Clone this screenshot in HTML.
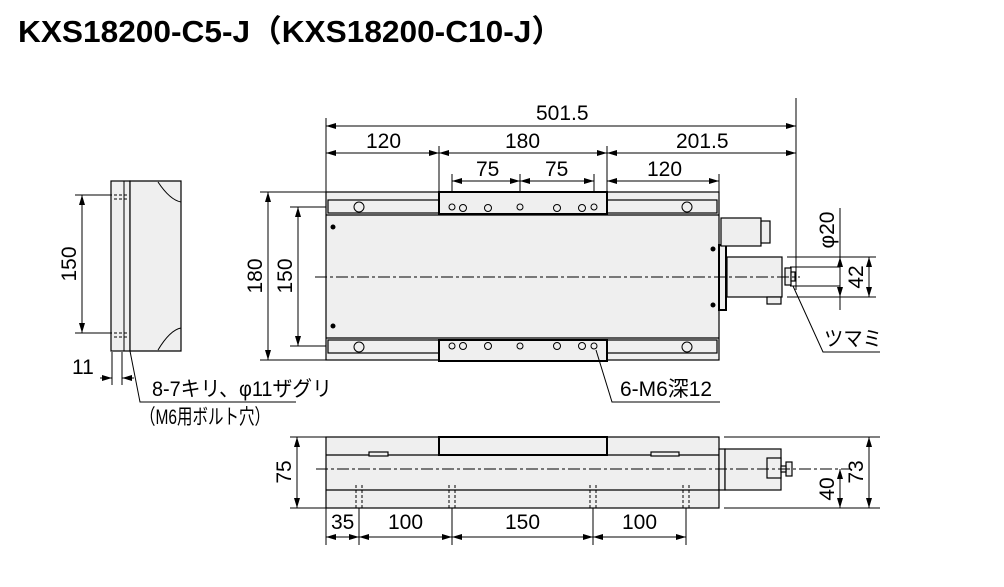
<!DOCTYPE html>
<html><head><meta charset="utf-8"><style>
html,body{margin:0;padding:0;background:#fff}
svg{display:block}
text{font-family:"Liberation Sans","Noto Sans CJK JP",sans-serif;fill:#000}
</style></head><body>
<svg width="1004" height="587" viewBox="0 0 1004 587" xmlns="http://www.w3.org/2000/svg">
<defs>
<marker id="a" viewBox="0 0 10 6" refX="10" refY="3" markerWidth="10" markerHeight="6" markerUnits="userSpaceOnUse" orient="auto-start-reverse"><path d="M0,0L10,3L0,6Z" fill="#000"/></marker>
</defs>
<text x="18" y="42" font-size="31" font-weight="bold" textLength="545" lengthAdjust="spacingAndGlyphs">KXS18200-C5-J（KXS18200-C10-J）</text>

<g stroke="#000" stroke-width="1" fill="none">
<!-- top dims -->
<line x1="326" y1="118" x2="326" y2="192"/><line x1="796" y1="98" x2="796" y2="290"/>
<line x1="326" y1="126" x2="796" y2="126" marker-start="url(#a)" marker-end="url(#a)"/>
<line x1="326" y1="153" x2="439" y2="153" marker-start="url(#a)" marker-end="url(#a)"/>
<line x1="439" y1="153" x2="607" y2="153" marker-start="url(#a)" marker-end="url(#a)"/>
<line x1="607" y1="153" x2="796" y2="153" marker-start="url(#a)" marker-end="url(#a)"/>
<line x1="439" y1="146" x2="439" y2="192"/><line x1="607" y1="146" x2="607" y2="192"/>
<line x1="452" y1="174" x2="452" y2="210"/><line x1="520" y1="174" x2="520" y2="210"/><line x1="594" y1="174" x2="594" y2="210"/><line x1="719" y1="174" x2="719" y2="192"/>
<line x1="452" y1="181" x2="520" y2="181" marker-start="url(#a)" marker-end="url(#a)"/>
<line x1="520" y1="181" x2="594" y2="181" marker-start="url(#a)" marker-end="url(#a)"/>
<line x1="607" y1="181" x2="719" y2="181" marker-start="url(#a)" marker-end="url(#a)"/>
<!-- left dims top view -->
<line x1="260" y1="192" x2="326" y2="192"/><line x1="260" y1="360" x2="326" y2="360"/>
<line x1="268" y1="192" x2="268" y2="360" marker-start="url(#a)" marker-end="url(#a)"/>
<line x1="290" y1="207" x2="340" y2="207"/><line x1="290" y1="346" x2="340" y2="346"/>
<line x1="298" y1="207" x2="298" y2="346" marker-start="url(#a)" marker-end="url(#a)"/>
</g>

<!-- top view body -->
<g stroke="#000" stroke-width="1.2" fill="#efefef">
<rect x="326" y="192" width="393" height="168"/>
<line x1="326" y1="215" x2="719" y2="215"/><line x1="326" y1="338" x2="719" y2="338"/>
<rect x="328" y="200" width="111" height="13" fill="none"/><rect x="607" y="200" width="110" height="13" fill="none"/>
<rect x="328" y="340" width="111" height="13" fill="none"/><rect x="607" y="340" width="110" height="13" fill="none"/>
<rect x="439" y="192" width="168" height="22" stroke-width="2"/>
<rect x="439" y="340" width="168" height="21" stroke-width="2"/>
<rect x="719" y="245" width="7" height="65" stroke-width="2"/>
<rect x="721" y="218" width="40" height="28"/><rect x="761" y="221" width="9" height="22"/>
<rect x="727" y="257" width="55" height="40"/><rect x="767" y="297" width="14" height="7"/>
<rect x="785" y="268" width="6" height="17"/><rect x="791" y="272" width="4" height="9"/>
</g>
<g stroke="#000" stroke-width="1" fill="none">
<circle cx="359" cy="207" r="5"/><circle cx="687" cy="207" r="5"/><circle cx="359" cy="347" r="5"/><circle cx="687" cy="347" r="5"/>
<circle cx="452" cy="207" r="3"/><circle cx="520" cy="207" r="3"/><circle cx="594" cy="207" r="3"/>
<circle cx="452" cy="346" r="3"/><circle cx="520" cy="346" r="3"/><circle cx="594" cy="346" r="3"/>
<circle cx="463" cy="208" r="3.5"/><circle cx="488" cy="208" r="3.5"/><circle cx="557" cy="208" r="3.5"/><circle cx="582" cy="208" r="3.5"/>
<circle cx="463" cy="346" r="3.5"/><circle cx="488" cy="346" r="3.5"/><circle cx="557" cy="346" r="3.5"/><circle cx="582" cy="346" r="3.5"/>
<line x1="315" y1="277" x2="800" y2="277" stroke-dasharray="12,3,3,3"/>
</g>
<g fill="#000"><circle cx="333" cy="227" r="2.5"/><circle cx="333" cy="326" r="2.5"/><circle cx="713" cy="249" r="2.5"/><circle cx="713" cy="305" r="2.5"/></g>

<!-- right dims -->
<g stroke="#000" stroke-width="1" fill="none">
<line x1="787" y1="257" x2="876" y2="257"/><line x1="787" y1="297" x2="876" y2="297"/>
<line x1="840" y1="208" x2="840" y2="310"/>
<line x1="840" y1="268" x2="840" y2="257" marker-end="url(#a)"/><line x1="840" y1="286" x2="840" y2="297" marker-end="url(#a)"/>
<line x1="790" y1="267" x2="840" y2="267"/><line x1="790" y1="286" x2="840" y2="286"/>
<line x1="869" y1="257" x2="869" y2="297" marker-start="url(#a)" marker-end="url(#a)"/>
<polyline points="793,286 823,352 880,352"/>
</g>

<!-- left side view -->
<g stroke="#000" stroke-width="1.2" fill="#efefef">
<rect x="111" y="181" width="19" height="170"/>
<path d="M130,181 L181,181 L181,351 L130,351Z"/>
</g>
<g stroke="#000" stroke-width="1" fill="none">
<line x1="124" y1="181" x2="124" y2="351"/>
<line x1="114" y1="195" x2="128" y2="195" stroke-dasharray="3,2"/><line x1="114" y1="199" x2="128" y2="199" stroke-dasharray="3,2"/>
<line x1="114" y1="333" x2="128" y2="333" stroke-dasharray="3,2"/><line x1="114" y1="337" x2="128" y2="337" stroke-dasharray="3,2"/>
<path d="M158,182 Q170,200 181,202"/><path d="M158,350 Q170,330 181,328"/>
<line x1="75" y1="195" x2="112" y2="195"/><line x1="75" y1="333" x2="112" y2="333"/>
<line x1="82" y1="195" x2="82" y2="333" marker-start="url(#a)" marker-end="url(#a)"/>
<line x1="112" y1="352" x2="112" y2="385"/><line x1="122" y1="352" x2="122" y2="385"/>
<line x1="100" y1="378" x2="112" y2="378" marker-end="url(#a)"/><line x1="134" y1="378" x2="122" y2="378" marker-end="url(#a)"/>
<polyline points="130,351 140,402 296,402"/>
<polyline points="596,350 612,402 720,402"/>
</g>

<!-- bottom view -->
<g stroke="#000" stroke-width="1.2" fill="#efefef">
<rect x="326" y="437" width="393" height="71"/>
<line x1="326" y1="455" x2="719" y2="455"/><line x1="326" y1="490" x2="719" y2="490"/>
<rect x="439" y="437" width="168" height="18" stroke-width="2"/>
<rect x="369" y="452" width="19" height="4"/><rect x="651" y="452" width="28" height="4"/>
<rect x="719" y="449" width="6" height="41"/>
<rect x="725" y="449" width="56" height="41"/><rect x="767" y="458" width="14" height="20"/>
<rect x="786" y="462" width="6" height="14"/><rect x="781" y="466" width="5" height="6"/>
</g>
<g stroke="#000" stroke-width="1" fill="none">
<line x1="316" y1="469" x2="850" y2="469" stroke-dasharray="12,3,3,3"/>
<g stroke-dasharray="3,2"><line x1="356" y1="485" x2="356" y2="508"/><line x1="362" y1="485" x2="362" y2="508"/>
<line x1="449" y1="485" x2="449" y2="508"/><line x1="455" y1="485" x2="455" y2="508"/>
<line x1="590" y1="485" x2="590" y2="508"/><line x1="596" y1="485" x2="596" y2="508"/>
<line x1="683" y1="485" x2="683" y2="508"/><line x1="689" y1="485" x2="689" y2="508"/></g>
<line x1="290" y1="437" x2="326" y2="437"/><line x1="290" y1="508" x2="326" y2="508"/>
<line x1="297" y1="437" x2="297" y2="508" marker-start="url(#a)" marker-end="url(#a)"/>
<line x1="724" y1="437" x2="880" y2="437"/><line x1="724" y1="508" x2="880" y2="508"/>
<line x1="869" y1="437" x2="869" y2="508" marker-start="url(#a)" marker-end="url(#a)"/>
<line x1="840" y1="469" x2="840" y2="508" marker-start="url(#a)" marker-end="url(#a)"/>
<line x1="326" y1="508" x2="326" y2="545"/><line x1="359" y1="508" x2="359" y2="545"/><line x1="452" y1="508" x2="452" y2="545"/><line x1="593" y1="508" x2="593" y2="545"/><line x1="686" y1="508" x2="686" y2="545"/>
<line x1="326" y1="537" x2="359" y2="537" marker-start="url(#a)" marker-end="url(#a)"/>
<line x1="359" y1="537" x2="452" y2="537" marker-start="url(#a)" marker-end="url(#a)"/>
<line x1="452" y1="537" x2="593" y2="537" marker-start="url(#a)" marker-end="url(#a)"/>
<line x1="593" y1="537" x2="686" y2="537" marker-start="url(#a)" marker-end="url(#a)"/>
</g>

<!-- labels -->
<g font-size="21">
<text x="536" y="120">501.5</text>
<text x="366" y="148">120</text><text x="505" y="148">180</text><text x="676" y="148">201.5</text>
<text x="476" y="176">75</text><text x="545" y="176">75</text><text x="647" y="176">120</text>
<text transform="translate(262,276) rotate(-90)" text-anchor="middle">180</text>
<text transform="translate(292,276) rotate(-90)" text-anchor="middle">150</text>
<text transform="translate(76,264) rotate(-90)" text-anchor="middle">150</text>
<text x="72" y="374">11</text>
<text transform="translate(834,230) rotate(-90)" text-anchor="middle">φ20</text>
<text transform="translate(863,277) rotate(-90)" text-anchor="middle">42</text>
<text transform="translate(834,489) rotate(-90)" text-anchor="middle">40</text>
<text transform="translate(863,472) rotate(-90)" text-anchor="middle">73</text>
<text transform="translate(291,472) rotate(-90)" text-anchor="middle">75</text>
<text x="331" y="529">35</text><text x="388" y="529">100</text><text x="505" y="529">150</text><text x="622" y="529">100</text>
<text x="152" y="396" textLength="180" lengthAdjust="spacingAndGlyphs">8-7キリ、φ11ザグリ</text>
<text x="140" y="424" textLength="130" lengthAdjust="spacingAndGlyphs">（M6用ボルト穴）</text>
<text x="620" y="396" textLength="92" lengthAdjust="spacingAndGlyphs">6-M6深12</text>
<text x="824" y="346" textLength="58" lengthAdjust="spacingAndGlyphs">ツマミ</text>
</g>
</svg>
</body></html>
